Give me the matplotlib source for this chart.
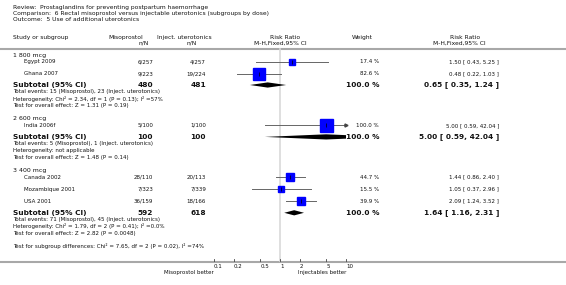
import matplotlib
matplotlib.use("Agg")
import matplotlib.pyplot as plt
from matplotlib.patches import Polygon
import numpy as np

# data
groups = ["1 800 mcg", "2 600 mcg", "3 400 mcg"]
studies = [["Egypt 2009", "Ghana 2007"],
           ["India 2006f"],
           ["Canada 2002", "Mozambique 2001", "USA 2001"]]
miso_nN = [["6/257", "9/223"], ["5/100"], ["28/110", "7/323", "36/159"]]
inj_nN = [["4/257", "19/224"], ["1/100"], ["20/113", "7/339", "18/166"]]
weights = [[17.4, 82.6], [100.0], [44.7, 15.5, 39.9]]
rr = [[1.50, 0.48], [5.00], [1.44, 1.05, 2.09]]
lo = [[0.43, 0.22], [0.59], [0.86, 0.37, 1.24]]
hi = [[5.25, 1.03], [42.04], [2.40, 2.96, 3.52]]

sub_miso_N = [480, 100, 592]
sub_inj_N = [481, 100, 618]
sub_rr = [0.65, 5.00, 1.64]
sub_lo = [0.35, 0.59, 1.16]
sub_hi = [1.24, 42.04, 2.31]
sub_events = ["Total events: 15 (Misoprostol), 23 (Inject. uterotonics)",
              "Total events: 5 (Misoprostol), 1 (Inject. uterotonics)",
              "Total events: 71 (Misoprostol), 45 (Inject. uterotonics)"]
sub_het = ["Heterogeneity: Chi\u00b2 = 2.34, df = 1 (P = 0.13); I\u00b2 =57%",
           "Heterogeneity: not applicable",
           "Heterogeneity: Chi\u00b2 = 1.79, df = 2 (P = 0.41); I\u00b2 =0.0%"]
sub_z = ["Test for overall effect: Z = 1.31 (P = 0.19)",
         "Test for overall effect: Z = 1.48 (P = 0.14)",
         "Test for overall effect: Z = 2.82 (P = 0.0048)"]
subgroup_test = "Test for subgroup differences: Chi\u00b2 = 7.65, df = 2 (P = 0.02), I\u00b2 =74%"

ticks = [0.1, 0.2, 0.5, 1, 2, 5, 10]
tick_labels = ["0.1", "0.2", "0.5", "1", "2", "5", "10"]

W, H = 566, 285
fig = plt.figure(figsize=(W / 100, H / 100), dpi=100)
ax = fig.add_axes([0, 0, 1, 1])
ax.set_xlim(0, W)
ax.set_ylim(H, 0)
ax.axis("off")

# forest panel, log scale, 0.1..10 -> px 214..346
fx0, fx1 = 214, 346
fax = fig.add_axes([fx0 / W, 0, (fx1 - fx0) / W, 1])
fax.set_xscale("log")
fax.set_xlim(0.1, 10)
fax.set_ylim(H, 0)
fax.axis("off")
fax.patch.set_alpha(0)

txt = "#111111"
grey = "#a8a8a8"
small = 4.0
bold = 5.3

# header
ax.text(13, 7.5, "Review:  Prostaglandins for preventing postpartum haemorrhage", fontsize=4.3, color=txt, va="center")
ax.text(13, 13.5, "Comparison:  6 Rectal misoprostol versus injectable uterotonics (subgroups by dose)", fontsize=4.3, color=txt, va="center")
ax.text(13, 19.5, "Outcome:  5 Use of additional uterotonics", fontsize=4.3, color=txt, va="center")

hy1, hy2 = 37.5, 43
ax.text(13, hy1, "Study or subgroup", fontsize=4.3, color=txt, va="center")
ax.text(126, hy1, "Misoprostol", fontsize=4.3, color=txt, va="center", ha="center")
ax.text(144, hy2, "n/N", fontsize=4.3, color=txt, va="center", ha="center")
ax.text(184.5, hy1, "Inject. uterotonics", fontsize=4.3, color=txt, va="center", ha="center")
ax.text(192, hy2, "n/N", fontsize=4.3, color=txt, va="center", ha="center")
ax.text(285, hy1, "Risk Ratio", fontsize=4.3, color=txt, va="center", ha="center")
ax.text(280, hy2, "M-H,Fixed,95% CI", fontsize=4.3, color=txt, va="center", ha="center")
ax.text(362, hy1, "Weight", fontsize=4.3, color=txt, va="center", ha="center")
ax.text(465, hy1, "Risk Ratio", fontsize=4.3, color=txt, va="center", ha="center")
ax.text(459, hy2, "M-H,Fixed,95% CI", fontsize=4.3, color=txt, va="center", ha="center")

ax.plot([0, W], [48.5, 48.5], color=grey, lw=1.5, solid_capstyle="butt")
ax.plot([0, W], [262, 262], color=grey, lw=1.5, solid_capstyle="butt")
fax.plot([1, 1], [49, 261], color="#d9d9d9", lw=1.2, zorder=0)

x_name, x_study, x_miso, x_inj, x_w, x_rr = 13, 24, 153, 206, 379, 499


def ci_text(r, l, h):
    return "%.2f [ %.2f, %.2f ]" % (r, l, h)


y = 55
for g in range(len(groups)):
    ax.text(x_name, y, groups[g], fontsize=4.5, color=txt, va="center")
    y += 6.5
    for i in range(len(studies[g])):
        ax.text(x_study, y, studies[g][i], fontsize=small, color=txt, va="center")
        ax.text(x_miso, y, miso_nN[g][i], fontsize=small, color=txt, va="center", ha="right")
        ax.text(x_inj, y, inj_nN[g][i], fontsize=small, color=txt, va="center", ha="right")
        ax.text(x_w, y, "%.1f %%" % weights[g][i], fontsize=small, color=txt, va="center", ha="right")
        ax.text(x_rr, y, ci_text(rr[g][i], lo[g][i], hi[g][i]), fontsize=small, color=txt, va="center", ha="right")
        # CI line, arrow if it runs off the scale
        h = min(hi[g][i], 10)
        fax.plot([lo[g][i], h], [y, y], color="#666666", lw=0.7, zorder=2)
        if hi[g][i] > 10:
            fax.plot([10], [y], marker=">", ms=2.2, color="#444444", clip_on=False, zorder=2)
        side = 4 + 9 * weights[g][i] / 100.0
        fax.plot([rr[g][i]], [y], marker="s", ms=side * 0.72, color="#0000ff", mec="#0000ff", lw=0, zorder=3)
        fax.plot([rr[g][i]], [y], marker="|", ms=2.5, mew=0.5, color="black", zorder=4)
        if i < len(studies[g]) - 1:
            y += 12
    y += 11.5
    ax.text(x_name, y, "Subtotal (95% CI)", fontsize=bold, weight="bold", color=txt, va="center")
    ax.text(x_miso, y, str(sub_miso_N[g]), fontsize=bold, weight="bold", color=txt, va="center", ha="right")
    ax.text(x_inj, y, str(sub_inj_N[g]), fontsize=bold, weight="bold", color=txt, va="center", ha="right")
    ax.text(x_w, y, "100.0 %", fontsize=bold, weight="bold", color=txt, va="center", ha="right")
    ax.text(x_rr, y, ci_text(sub_rr[g], sub_lo[g], sub_hi[g]), fontsize=bold, weight="bold", color=txt, va="center", ha="right")
    dh = 2.6
    fax.add_patch(Polygon([(sub_lo[g], y), (sub_rr[g], y - dh), (sub_hi[g], y), (sub_rr[g], y + dh)],
                          closed=True, color="black", lw=0, zorder=3))
    for line in [sub_events[g], sub_het[g], sub_z[g]]:
        y += 6.8
        ax.text(x_name, y, line, fontsize=small, color=txt, va="center")
    y += 13.5

ax.text(x_name, 246, subgroup_test, fontsize=small, color=txt, va="center")

# log axis ticks
for t, lab in zip(ticks, tick_labels):
    fax.plot([t, t], [258.5, 261], color="#444444", lw=0.6, clip_on=False)
    fax.text(t, 267, lab, fontsize=small, color=txt, va="center", ha="left", clip_on=False)
fax.text(0.1, 272.5, "Misoprostol better", fontsize=small, color=txt, va="center", ha="right", clip_on=False)
fax.text(10, 272.5, "Injectables better", fontsize=small, color=txt, va="center", ha="right", clip_on=False)

fig.savefig("out.png", dpi=100)
